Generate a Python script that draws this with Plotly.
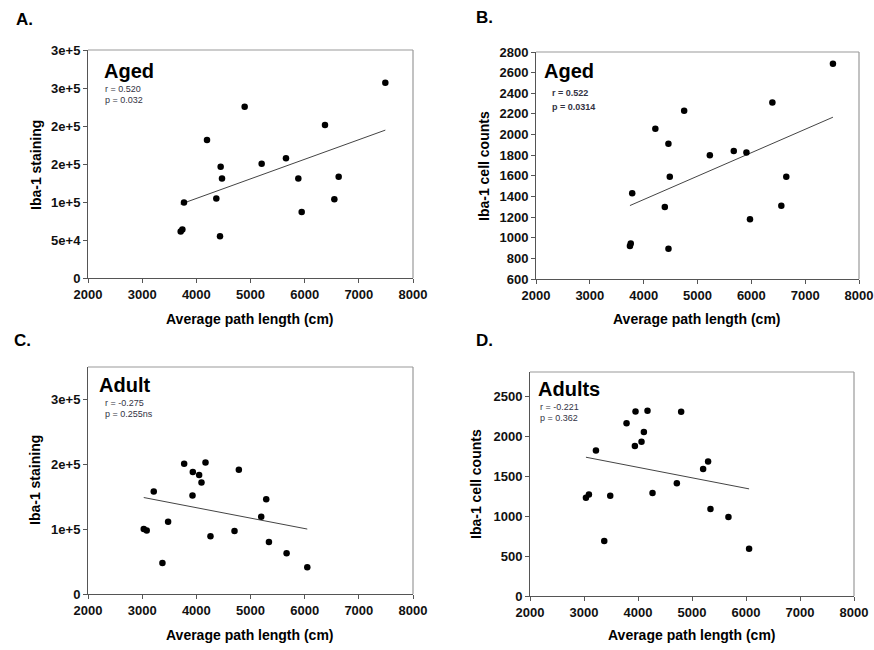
import numpy as np
import plotly.graph_objects as go

# ---------------- data ----------------
# Panel A: Aged, Iba-1 staining
aged_path_a = [7489, 4892, 6375, 4197, 5655, 5206, 4449, 4474, 5883, 6628,
               4369, 3772, 6548, 5945, 3742, 3711, 4437]
aged_staining = [257000, 225400, 201200, 181500, 157700, 150300, 146300, 130900, 130900, 133100,
                 104600, 99300, 103700, 87000, 63700, 61100, 54900]

# Panel B: Aged, Iba-1 cell counts
aged_path_b = [7516, 6391, 4752, 4217, 4460, 5229, 5674, 5909, 4485, 6649,
               3787, 6557, 4393, 5975, 3760, 3745, 4461]
aged_counts = [2687, 2311, 2230, 2055, 1912, 1799, 1841, 1825, 1592, 1592,
               1430, 1310, 1297, 1180, 943, 921, 892]

# Panel C: Adult, Iba-1 staining
adult_path_c = [3029, 3084, 3214, 3374, 3479, 3775, 3935, 3929, 4052, 4095,
                4169, 4261, 4705, 4785, 5198, 5290, 5340, 5666, 6048]
adult_staining = [100200, 98100, 158200, 47800, 111500, 200800, 188000, 152000, 183400, 172100,
                  202900, 88900, 97100, 191600, 119200, 145900, 80100, 62700, 41100]

# Panel D: Adults, Iba-1 cell counts
adult_path_d = [3036, 3091, 3221, 3375, 3486, 3788, 3942, 3954, 4065, 4109,
                4176, 4269, 4719, 4799, 5206, 5298, 5342, 5675, 6057]
adult_counts = [1227, 1269, 1819, 689, 1252, 2160, 1874, 2307, 1929, 2050,
                2315, 1286, 1408, 2303, 1588, 1681, 1088, 987, 592]

x_ticks = [2000, 3000, 4000, 5000, 6000, 7000, 8000]
a_yticks = [0, 50000, 100000, 150000, 200000, 250000, 300000]
a_yticktext = ["0", "5e+4", "1e+5", "2e+5", "2e+5", "3e+5", "3e+5"]
b_yticks = [600, 800, 1000, 1200, 1400, 1600, 1800, 2000, 2200, 2400, 2600, 2800]
c_yticks = [0, 100000, 200000, 300000]
c_yticktext = ["0", "1e+5", "2e+5", "3e+5"]
d_yticks = [0, 500, 1000, 1500, 2000, 2500]

# ---------------- layout helpers ----------------
W, H = 874, 650
def px(x):
    return x / W
def py(y):
    return 1 - y / H

FONT = "Liberation Sans, Arial, sans-serif"

panels = [
    dict(x=aged_path_a, y=aged_staining, xd=(88, 413), yd=(50, 278), yr=[0, 300000],
         yt=a_yticks, ytt=a_yticktext),
    dict(x=aged_path_b, y=aged_counts, xd=(536, 859), yd=(52, 279), yr=[600, 2800],
         yt=b_yticks, ytt=[str(v) for v in b_yticks]),
    dict(x=adult_path_c, y=adult_staining, xd=(88, 413), yd=(367, 594), yr=[0, 350000],
         yt=c_yticks, ytt=c_yticktext),
    dict(x=adult_path_d, y=adult_counts, xd=(530, 854), yd=(372, 596), yr=[0, 2800],
         yt=d_yticks, ytt=[str(v) for v in d_yticks]),
]

fig = go.Figure()
shapes = []
for i, p in enumerate(panels, start=1):
    xa = "x" if i == 1 else f"x{i}"
    ya = "y" if i == 1 else f"y{i}"
    xs = np.array(p["x"], dtype=float)
    ys = np.array(p["y"], dtype=float)
    slope, icpt = np.polyfit(xs, ys, 1)
    lx = np.array([xs.min(), xs.max()])
    fig.add_trace(go.Scatter(x=lx, y=slope * lx + icpt, mode="lines",
                             line=dict(color="#444444", width=1),
                             xaxis=xa, yaxis=ya, showlegend=False, hoverinfo="skip"))
    fig.add_trace(go.Scatter(x=xs, y=ys, mode="markers",
                             marker=dict(color="black", size=6.5),
                             xaxis=xa, yaxis=ya, showlegend=False))
    axkey = "xaxis" if i == 1 else f"xaxis{i}"
    aykey = "yaxis" if i == 1 else f"yaxis{i}"
    fig.update_layout({
        axkey: dict(domain=[px(p["xd"][0]), px(p["xd"][1])], anchor=ya, automargin=False,
                    range=[2000, 8000], tickvals=x_ticks, ticks="outside", ticklen=4,
                    tickcolor="#555555", showline=True, linecolor="#555555", linewidth=1,
                    showgrid=False, zeroline=False,
                    tickfont=dict(family=FONT, size=13, color="#111111", weight="bold")),
        aykey: dict(domain=[py(p["yd"][1]), py(p["yd"][0])], anchor=xa, automargin=False,
                    range=p["yr"], tickvals=p["yt"], ticktext=p["ytt"], ticks="outside",
                    ticklen=4, tickcolor="#555555", showline=True, linecolor="#555555",
                    linewidth=1, showgrid=False, zeroline=False,
                    tickfont=dict(family=FONT, size=13, color="#111111", weight="bold")),
    })
    shapes.append(dict(type="line", xref=f"{xa} domain", yref=f"{ya} domain",
                       x0=0, x1=1, y0=1, y1=1, line=dict(color="#999999", width=1.2)))
    shapes.append(dict(type="line", xref=f"{xa} domain", yref=f"{ya} domain",
                       x0=1, x1=1, y0=0, y1=1, line=dict(color="#999999", width=1.2)))

ann = []
def text(x, y, s, size, bold=False, color="black", angle=0, xanchor="left", family=FONT):
    ann.append(dict(x=px(x), y=py(y), xref="paper", yref="paper", text=s, showarrow=False,
                    xanchor=xanchor, yanchor="middle", textangle=angle,
                    font=dict(family=family, size=size, color=color,
                              weight="bold" if bold else "normal")))

# panel letters
text(14, 19, "A.", 17, bold=True)
text(474, 17, "B.", 17, bold=True)
text(12, 340, "C.", 17, bold=True)
text(474, 340, "D.", 17, bold=True)

# x-axis titles
xt = "Average path length (cm)"
text(250, 319, xt, 14, bold=True, xanchor="center")
text(697, 319, xt, 14, bold=True, xanchor="center")
text(250, 635, xt, 14, bold=True, xanchor="center")
text(692, 635, xt, 14, bold=True, xanchor="center")

# y-axis titles
text(36, 165, "Iba-1 staining", 14, bold=True, angle=-90, xanchor="center")
text(484, 166, "Iba-1 cell counts", 14, bold=True, angle=-90, xanchor="center")
text(35, 480, "Iba-1 staining", 14, bold=True, angle=-90, xanchor="center")
text(476, 484, "Iba-1 cell counts", 14, bold=True, angle=-90, xanchor="center")

# group labels
text(102, 71, "Aged", 20, bold=True)
text(542, 71, "Aged", 20, bold=True)
text(97, 385, "Adult", 20, bold=True)
text(536, 389, "Adults", 20, bold=True)

# statistics
stat = "#333344"
text(103, 89.5, "r = 0.520", 9, color=stat)
text(103, 100.5, "p = 0.032", 9, color=stat)
text(550, 93, "r = 0.522", 9, bold=True, color=stat)
text(550, 107, "p = 0.0314", 9, bold=True, color=stat)
text(103, 402.5, "r = -0.275", 9, color=stat)
text(103, 413.5, "p = 0.255ns", 9, color=stat)
text(538, 406.5, "r = -0.221", 9, color=stat)
text(538, 417.5, "p = 0.362", 9, color=stat)

fig.update_layout(width=W, height=H, margin=dict(l=0, r=0, t=0, b=0, autoexpand=False),
                  paper_bgcolor="white", plot_bgcolor="white",
                  annotations=ann, shapes=shapes, showlegend=False)

fig.write_html("out.html", config={"displayModeBar": False},
               post_script="document.body.style.margin='0px';")
